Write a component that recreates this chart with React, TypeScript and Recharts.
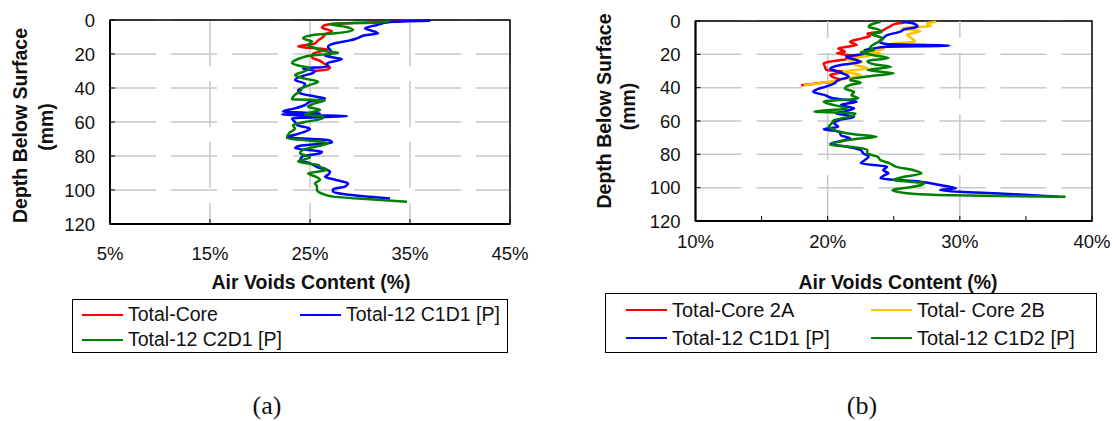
import React from 'react'
import {
  LineChart,
  Line,
  XAxis,
  YAxis,
  CartesianGrid,
  ReferenceArea,
  ReferenceLine,
  Legend
} from 'recharts'

// [depth (mm), air voids (%)]
const coreTotal = [
  [0.5, 35], [1, 33], [2, 28], [3, 26.5], [4.5, 26.2], [6.5, 27.2], [8.5, 26.5], [10, 26.3],
  [12, 25.8], [14, 25.4], [15.5, 23.8], [16.2, 24.5], [17.2, 26.8], [18.5, 26], [20, 25.3],
  [22, 25.2], [24, 26], [26, 26.5], [28, 27], [29, 26.8], [30, 25.3]
]
const c1d1A = [
  [0.5, 37], [1.2, 33], [2.9, 31.7], [4.9, 30.5], [6, 31], [7.8, 31.8], [9, 30.5], [10.8, 29.7],
  [12, 29], [13.7, 27.5], [15.7, 26.8], [17.5, 27], [19.6, 27.2], [21, 26.5], [23, 28.2],
  [25.5, 26.7], [27.5, 26.8], [28.5, 24.3], [30, 25.5], [31.4, 25.2], [33, 24.2], [35.3, 23.5],
  [37.5, 24.5], [39.6, 24.3], [41.5, 23.8], [43.1, 24], [45, 25.5], [46.1, 26.5], [48, 25],
  [50, 24.5], [52, 23.5], [53.9, 22.3], [54.5, 24.5], [54.9, 26], [55.6, 22.2], [56.5, 28.7],
  [57.8, 23.2], [60, 23.5], [61.8, 23.7], [64, 25], [65.7, 24.5], [67.5, 23.5], [69, 22.7],
  [70.6, 26.8], [72, 27.2], [74, 24], [75.5, 23.5], [77.5, 26.2], [78.5, 26], [80, 24.3],
  [82.4, 24], [84.3, 25], [86.5, 25.7], [89.2, 27], [91, 26.8], [92.2, 26.5], [94, 27.5],
  [96.1, 28.8], [98, 28.5], [99.5, 27.3], [101, 27.3], [102.5, 28.5], [104, 31], [105, 33]
]
const c2d1A = [
  [0.5, 33], [1.4, 31.8], [2.4, 27], [4, 28.5], [5.9, 29.3], [7.8, 27.5], [8.8, 25.3], [10.8, 24.3],
  [12.7, 25.2], [14.7, 24.8], [16.5, 25.5], [18.6, 26.7], [19.2, 27.8], [21.2, 24.8], [22.5, 24],
  [25.5, 23.2], [27, 24], [28.4, 25], [30.5, 24.3], [32.4, 23.5], [34.5, 24.5], [36.3, 25.8],
  [38.2, 25], [40, 24.2], [42, 24], [44, 23.5], [46.7, 23.2], [47.1, 26.5], [49, 25.5], [51, 24.8],
  [52.9, 26], [54.5, 25], [55.9, 24.5], [56.5, 26.3], [57.8, 26.3], [60, 24.5], [61.8, 23.3],
  [64, 23.5], [66, 23], [69.6, 22.7], [71, 25], [72.5, 26.8], [74, 26], [76, 24.5], [78.4, 24],
  [80.8, 25], [83.3, 23.8], [85.3, 25.8], [86.3, 26], [88.2, 26.7], [90.2, 24.8], [92, 25.5],
  [94.1, 26], [96, 25.5], [98, 25.7], [100, 25.7], [101.6, 26], [103.9, 27.3], [105.5, 31],
  [106.9, 34.7]
]

const core2A = [
  [0.5, 26], [1, 25.7], [2, 25], [3.4, 24.7], [5, 24.3], [6.4, 24], [7.4, 23], [9, 23.2],
  [10.4, 22.6], [12.4, 21.7], [14.4, 22.2], [16.4, 20.8], [18.4, 21.3], [19.4, 20.7], [21.4, 22.3],
  [23.4, 21], [25.4, 19.7], [27.5, 19.8], [29.4, 19.9], [30.4, 21.2], [32.4, 20.2], [34, 20.5],
  [35.4, 21], [36.8, 20], [37.6, 19], [38.5, 18]
]
const core2B = [
  [0.5, 28.2], [1.5, 27.5], [3, 27.8], [4.4, 25.6], [6, 27], [8.4, 26], [10, 26.3], [12.4, 26.6],
  [13.5, 25], [15, 24.5], [17.4, 24], [18.4, 22.5], [19.4, 24], [21, 23], [23.4, 21.5], [24.4, 22.6],
  [26, 22], [28.4, 23], [30.4, 21.2], [32.4, 22.5], [34.4, 21.5], [36.4, 20.2], [37.8, 19], [38.5, 18.2]
]
const c1d1B = [
  [0.5, 25.6], [1.5, 26.5], [3.4, 26.8], [5, 25.8], [6.4, 25.5], [8.5, 24.5], [10.4, 24.2],
  [12.4, 23.9], [13.8, 24.4], [14.8, 29.2], [15.4, 24.4], [16.5, 23.5], [17.4, 22.8], [19.4, 23],
  [21.4, 21.4], [23, 22], [24.4, 22.5], [26.4, 21], [28.4, 20.2], [31, 21], [33.4, 21.6],
  [35.4, 20.8], [37.5, 20.5], [39.5, 19.8], [41, 19.2], [42.4, 18.9], [44.5, 19.8], [46.4, 20.4],
  [48.4, 22.2], [50.4, 21], [52.4, 22], [54.4, 21.2], [55.4, 20.6], [57.4, 22], [59.4, 20.9],
  [61.5, 20.5], [63.5, 20.8], [65, 19.7], [66.5, 20.9], [68.5, 21], [70.4, 21.7], [72, 21],
  [73.8, 20.2], [75.5, 21.5], [77.4, 22.5], [79.4, 22.7], [81.4, 23.1], [83.5, 22.8], [85.4, 22.5],
  [87.4, 24.5], [89.5, 24.2], [91.4, 24.6], [92.5, 24.3], [94.4, 24], [96.4, 27], [98.4, 28.5],
  [100.4, 29.7], [101.4, 28.5], [102.5, 30], [103.5, 33], [104.5, 35.5], [105.4, 37.5]
]
const c1d2B = [
  [0.5, 24], [1.5, 23.5], [3.4, 23.1], [5, 23.8], [6.4, 24.1], [8, 23.3], [9, 23.7], [10.5, 24.2],
  [12.4, 23.9], [14, 23.5], [16, 23.2], [17.5, 23.5], [18.8, 22.5], [20.5, 23.5], [22.2, 24.6],
  [24, 23], [26, 23.5], [27.5, 24.8], [29.4, 23], [31.4, 25], [33, 23.3], [35.4, 21.7], [37, 22.5],
  [38.4, 21.7], [40.5, 21.3], [42.5, 22], [44.5, 21.8], [46.4, 22.3], [48.4, 19.7], [50.5, 20.5],
  [52.5, 21.5], [54.4, 19], [55.4, 22.1], [57.4, 21.7], [59.5, 20.5], [61.4, 20.3], [63.4, 20.1],
  [64.4, 20.2], [66.4, 20.9], [68, 22], [69.4, 23.7], [71, 22], [73.4, 20.4], [74.4, 20.2],
  [75.4, 21.7], [77.4, 23], [79.4, 23], [81.5, 23.8], [83.5, 24], [85.4, 24.7], [87.5, 25.2],
  [89.5, 26.5], [91.4, 27.1], [93.5, 25.8], [95.4, 25], [97.4, 27.3], [98.4, 27.1], [100, 26],
  [101.4, 24.9], [103.4, 26], [104.4, 28.3], [105, 33], [105.4, 38]
]

const depthTicks = [0, 20, 40, 60, 80, 100, 120]
const voidTicksA = [5, 15, 25, 35, 45]
const voidTicksB = [10, 15, 20, 25, 30, 35, 40]
const voidGridB = [20, 30]

const seriesA = [
  { name: 'Total-Core', color: '#ff0000', rows: coreTotal },
  { name: 'Total-12 C1D1 [P]', color: '#0000ff', rows: c1d1A },
  { name: 'Total-12 C2D1 [P]', color: '#008000', rows: c2d1A }
]
const seriesB = [
  { name: 'Total-Core 2A', color: '#ff0000', rows: core2A },
  { name: 'Total- Core 2B', color: '#ffc000', rows: core2B },
  { name: 'Total-12 C1D1 [P]', color: '#0000ff', rows: c1d1B },
  { name: 'Total-12 C1D2 [P]', color: '#008000', rows: c1d2B }
]

const SANS = '"Liberation Sans", Arial, sans-serif'
const GRID = '#c8c8c8'

const toPoints = (rows: number[][]) => rows.map(([d, v]) => ({ d, v }))

type Series = { name: string; color: string; rows: number[][] }

type PanelProps = {
  width: number
  top: number
  axisWidth: number
  xDomain: [number, number]
  xTicks: number[]
  xGrid?: number[]
  labelEvery: number
  tickGap: number
  series: Series[]
  titleX: number
  depthTitle: [number, number, number, number]
  legendBox: { left: number; top: number; width: number; height: number }
  legendPad: number
  legendCol: number
  legendRow: number
  legendFont: number
}

// boxed two-column legend, entries kept in plotting order
function BoxLegend({ items, pad, col, row, font }: { items: Series[]; pad: number; col: number; row: number; font: number }) {
  return (
    <div
      style={{
        boxSizing: 'border-box',
        width: '100%',
        height: '100%',
        border: '1.5px solid #000',
        paddingLeft: pad,
        paddingTop: 2,
        display: 'grid',
        gridTemplateColumns: `${col}px 1fr`,
        gridAutoRows: row,
        fontFamily: SANS,
        fontSize: font,
        color: '#111'
      }}
    >
      {items.map((s) => (
        <div key={s.name} style={{ display: 'flex', alignItems: 'center', whiteSpace: 'nowrap' }}>
          <span style={{ display: 'inline-block', width: 41, height: 2, background: s.color, marginRight: 5 }} />
          <span>{s.name}</span>
        </div>
      ))}
    </div>
  )
}

function ProfilePanel(p: PanelProps) {
  const height = 360
  const plotBottom = p.top + 204 - (p.xGrid ? 4 : 0)
  const [t1x, t1y, t2x, t2y] = p.depthTitle
  return (
    <LineChart
      width={p.width}
      height={height}
      layout="vertical"
      margin={{ top: p.top, right: 20, left: 0, bottom: height - plotBottom - 36 }}
    >
      <CartesianGrid
        stroke={GRID}
        strokeWidth={1.5}
        strokeDasharray="46 15"
        vertical={!p.xGrid}
      />
      {(p.xGrid || []).map((g) => (
        <ReferenceLine key={g} x={g} stroke={GRID} strokeWidth={1.5} strokeDasharray="46 15" />
      ))}
      <ReferenceArea
        x1={p.xDomain[0]}
        x2={p.xDomain[1]}
        y1={0}
        y2={120}
        fill="none"
        stroke="#000"
        strokeWidth={1.5}
        ifOverflow="visible"
      />
      <XAxis
        type="number"
        dataKey="v"
        domain={p.xDomain}
        ticks={p.xTicks}
        interval={0}
        height={36}
        tickSize={-5}
        tickMargin={p.tickGap}
        tickFormatter={(v: number) => (v % p.labelEvery === 0 ? `${v}%` : '')}
        axisLine={{ stroke: '#000', strokeWidth: 2 }}
        tickLine={{ stroke: '#000' }}
        tick={{ fill: '#111', fontSize: 18.5, fontFamily: SANS }}
        label={{
          content: () => (
            <text
              x={p.titleX}
              y={282}
              textAnchor="middle"
              dominantBaseline="central"
              fontFamily={SANS}
              fontWeight="bold"
              fontSize={19.5}
              fill="#111"
            >
              Air Voids Content (%)
            </text>
          )
        }}
      />
      <YAxis
        type="number"
        dataKey="d"
        domain={[0, 120]}
        ticks={depthTicks}
        interval={0}
        width={p.axisWidth}
        tickSize={-5}
        tickMargin={20}
        axisLine={{ stroke: '#000', strokeWidth: 2 }}
        tickLine={{ stroke: '#000' }}
        tick={{ fill: '#111', fontSize: 18.5, fontFamily: SANS }}
        label={{
          content: () => (
            <g fontFamily={SANS} fontWeight="bold" fontSize={19.5} fill="#111">
              <text
                x={t1x}
                y={t1y}
                transform={`rotate(-90 ${t1x} ${t1y})`}
                textAnchor="middle"
                dominantBaseline="central"
              >
                Depth Below Surface
              </text>
              <text
                x={t2x}
                y={t2y}
                transform={`rotate(-90 ${t2x} ${t2y})`}
                textAnchor="middle"
                dominantBaseline="central"
              >
                (mm)
              </text>
            </g>
          )
        }}
      />
      {p.series.map((s) => (
        <Line
          key={s.name}
          name={s.name}
          data={toPoints(s.rows)}
          dataKey="v"
          type="monotone"
          stroke={s.color}
          strokeWidth={2.5}
          dot={false}
          isAnimationActive={false}
        />
      ))}
      <Legend
        layout="horizontal"
        verticalAlign="middle"
        align="center"
        wrapperStyle={{ ...p.legendBox }}
        content={() => (
          <BoxLegend
            items={p.series}
            pad={p.legendPad}
            col={p.legendCol}
            row={p.legendRow}
            font={p.legendFont}
          />
        )}
      />
    </LineChart>
  )
}

export default function App() {
  const caption: React.CSSProperties = {
    position: 'absolute',
    top: 391,
    width: 100,
    textAlign: 'center',
    fontFamily: '"Liberation Serif", "Times New Roman", serif',
    fontSize: 26,
    lineHeight: '30px',
    color: '#111'
  }
  return (
    <div style={{ position: 'absolute', left: 0, top: 0, width: 1112, height: 421, background: '#fff', overflow: 'hidden' }}>
      <div style={{ position: 'absolute', left: 0, top: 0 }}>
        <ProfilePanel
          width={530}
          top={20}
          axisWidth={110}
          xDomain={[5, 45]}
          xTicks={voidTicksA}
          labelEvery={5}
          tickGap={28}
          series={seriesA}
          titleX={311}
          depthTitle={[19.5, 125.5, 46, 127]}
          legendBox={{ left: 72, top: 299, width: 436, height: 54 }}
          legendPad={9}
          legendCol={218}
          legendRow={25}
          legendFont={19.5}
        />
      </div>
      <div style={{ position: 'absolute', left: 580, top: 0 }}>
        <ProfilePanel
          width={532}
          top={21}
          axisWidth={115.5}
          xDomain={[10, 40]}
          xTicks={voidTicksB}
          xGrid={voidGridB}
          labelEvery={10}
          tickGap={19}
          series={seriesB}
          titleX={318}
          depthTitle={[23.5, 111, 47.5, 106.5]}
          legendBox={{ left: 25, top: 293, width: 492, height: 60 }}
          legendPad={20}
          legendCol={245}
          legendRow={28}
          legendFont={20}
        />
      </div>
      <div style={{ ...caption, left: 217 }}>(a)</div>
      <div style={{ ...caption, left: 812 }}>(b)</div>
    </div>
  )
}
